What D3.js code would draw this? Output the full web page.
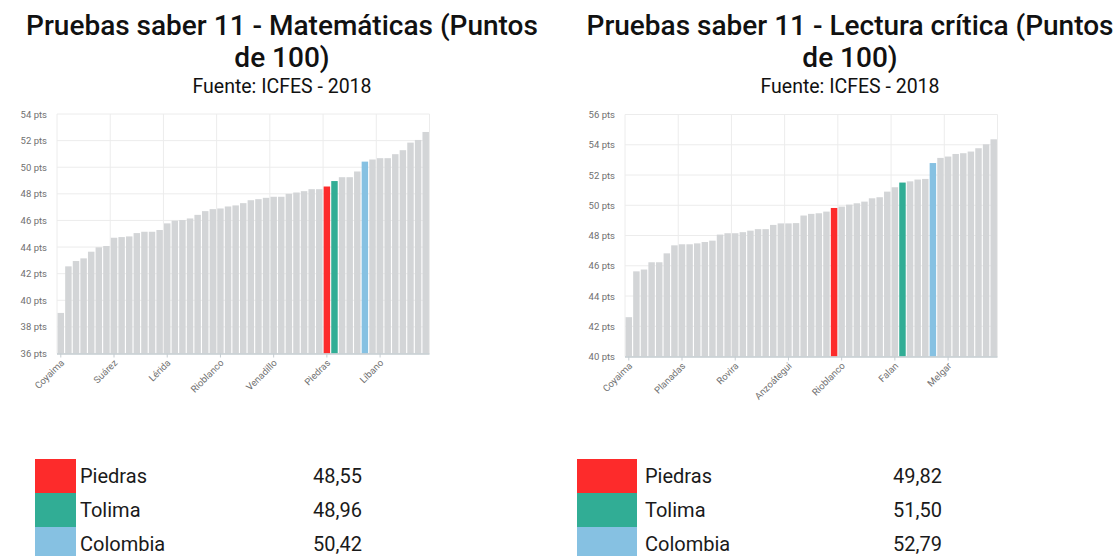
<!DOCTYPE html>
<html>
<head>
<meta charset="utf-8">
<script src="https://cdn.jsdelivr.net/npm/d3@7"></script>
<style>
  html, body { margin: 0; padding: 0; background: #fff; }
  svg { display: block; font-family: Roboto, "Noto Sans", sans-serif; }
</style>
</head>
<body>
<svg id="chart" width="1117" height="556"></svg>
<script>
// ---------- DATA ----------
const mathCategories = [
  "Coyaima","Ataco","Planadas","Natagaima","Rovira","Ortega","San Antonio",
  "Suárez","Roncesvalles","Dolores","Alpujarra","Villarrica","Cunday","Prado",
  "Lérida","Saldaña","Casabianca","Herveo","Anzoátegui","Santa Isabel","Coello",
  "Rioblanco","Valle de San Juan","Palocabildo","Purificación","Villahermosa","Alvarado","Murillo",
  "Venadillo","San Luis","Icononzo","Falan","Ambalema","Armero","Guamo",
  "Piedras","Tolima","Chaparral","Cajamarca","Fresno","Colombia","Carmen de Apicalá",
  "Líbano","Mariquita","Flandes","Honda","Espinal","Melgar","Ibagué"
];
const mathValues = [
  39.05, 42.55, 42.95, 43.15, 43.65, 43.98, 44.08,
  44.70, 44.75, 44.80, 45.05, 45.15, 45.15, 45.28,
  45.78, 45.98, 46.03, 46.15, 46.42, 46.70, 46.85,
  46.90, 47.05, 47.13, 47.30, 47.52, 47.60, 47.70,
  47.78, 47.78, 48.00, 48.10, 48.20, 48.35, 48.35,
  48.55, 48.96, 49.25, 49.25, 49.68, 50.42, 50.58,
  50.68, 50.68, 50.98, 51.28, 51.85, 52.05, 52.65
];
const mathTicks = [36, 38, 40, 42, 44, 46, 48, 50, 52, 54];

const readCategories = [
  "Coyaima","Ataco","Natagaima","Ortega","Chaparral","San Antonio","Roncesvalles",
  "Planadas","Dolores","Suárez","Alpujarra","Villarrica","Cunday","Prado",
  "Rovira","Saldaña","Casabianca","Herveo","Santa Isabel","Coello","Lérida",
  "Anzoátegui","Valle de San Juan","Palocabildo","Purificación","Villahermosa","Alvarado","Piedras",
  "Rioblanco","Murillo","Venadillo","San Luis","Icononzo","Ambalema","Armero",
  "Falan","Tolima","Guamo","Cajamarca","Fresno","Colombia","Carmen de Apicalá",
  "Melgar","Líbano","Mariquita","Flandes","Honda","Espinal","Ibagué"
];
const readValues = [
  42.60, 45.63, 45.75, 46.23, 46.23, 46.82, 47.35,
  47.42, 47.42, 47.48, 47.57, 47.66, 48.06, 48.15,
  48.15, 48.22, 48.32, 48.42, 48.42, 48.70, 48.80,
  48.80, 48.82, 49.32, 49.43, 49.47, 49.58, 49.82,
  49.91, 50.04, 50.13, 50.24, 50.46, 50.53, 50.90,
  51.19, 51.50, 51.58, 51.70, 51.74, 52.79, 53.13,
  53.22, 53.39, 53.44, 53.55, 53.77, 54.03, 54.36
];
const readTicks = [40, 42, 44, 46, 48, 50, 52, 54, 56];

const legendNames = ["Piedras", "Tolima", "Colombia"];
const legendMath = [48.55, 48.96, 50.42];
const legendRead = [49.82, 51.50, 52.79];

const titles = [
  ["Pruebas saber 11 - Matemáticas (Puntos", "de 100)"],
  ["Pruebas saber 11 - Lectura crítica (Puntos", "de 100)"]
];
const subtitle = "Fuente: ICFES - 2018";

// ---------- STYLE ----------
const highlight = { "Piedras": "#fd2b2b", "Tolima": "#31ad95", "Colombia": "#86c1e2" };
const barGray = "#d3d5d7";

const svg = d3.select("#chart");

function panel(cfg) {
  const g = svg.append("g");
  // titles
  g.append("text").attr("x", cfg.cx).attr("y", 35).attr("text-anchor", "middle")
    .attr("font-size", 28).attr("font-weight", 500).attr("fill", "#111").text(cfg.title[0]);
  g.append("text").attr("x", cfg.cx).attr("y", 67).attr("text-anchor", "middle")
    .attr("font-size", 28).attr("font-weight", 500).attr("fill", "#111").text(cfg.title[1]);
  g.append("text").attr("x", cfg.cx).attr("y", 93).attr("text-anchor", "middle")
    .attr("font-size", 19.5).attr("fill", "#111").text(subtitle);

  const x = d3.scaleBand().domain(d3.range(cfg.values.length))
    .range([cfg.x0, cfg.x1]).paddingInner(0.15).paddingOuter(0.075);
  const y = d3.scaleLinear().domain(d3.extent(cfg.ticks)).range([cfg.yb, cfg.yt]);

  // horizontal grid
  g.append("g").selectAll("line").data(cfg.ticks).join("line")
    .attr("x1", cfg.x0).attr("x2", cfg.x1)
    .attr("y1", d => y(d)).attr("y2", d => y(d))
    .attr("stroke", "#ececec").attr("stroke-width", 1);
  // vertical grid at every 7th category boundary
  const step = x.step();
  const vIdx = d3.range(0, cfg.values.length + 1, 7);
  g.append("g").selectAll("line").data(vIdx).join("line")
    .attr("x1", d => cfg.x0 + d * step).attr("x2", d => cfg.x0 + d * step)
    .attr("y1", cfg.yt).attr("y2", cfg.yb)
    .attr("stroke", "#ececec").attr("stroke-width", 1);

  // bars
  g.append("g").selectAll("rect").data(cfg.values).join("rect")
    .attr("x", (d, i) => x(i)).attr("width", x.bandwidth())
    .attr("y", d => y(d)).attr("height", d => cfg.yb - y(d))
    .attr("fill", (d, i) => highlight[cfg.categories[i]] || barGray);

  // y axis labels
  const yAxis = d3.axisLeft(y).tickValues(cfg.ticks).tickSize(0).tickPadding(0)
    .tickFormat(d => d + " pts");
  const ya = g.append("g").attr("transform", `translate(${cfg.x0 - 10},0)`).call(yAxis);
  ya.select(".domain").remove();
  ya.selectAll("text").attr("font-size", 9.5).attr("fill", "#707070")
    .attr("font-family", "Roboto, sans-serif");

  // x axis
  const tickIdx = d3.range(0, cfg.values.length, 7);
  const xAxis = d3.axisBottom(x).tickValues(tickIdx).tickSize(4).tickSizeOuter(0)
    .tickFormat(i => cfg.categories[i]);
  const xa = g.append("g").attr("transform", `translate(0,${cfg.yb})`).call(xAxis);
  xa.select(".domain").attr("stroke", "#c5ccd1").attr("stroke-width", 1.5)
    .attr("d", `M${cfg.x0},0.5H${cfg.x1}`);
  xa.selectAll(".tick line").attr("stroke", "#c5ccd1");
  xa.selectAll("text").attr("font-size", 9.5).attr("fill", "#707070")
    .attr("font-family", "Roboto, sans-serif")
    .attr("text-anchor", "end").attr("y", 0).attr("dy", 0)
    .attr("transform", "translate(4,10) rotate(-45)");

  // legend table
  const rowH = 34;
  const lg = g.append("g");
  legendNames.forEach((name, i) => {
    const top = cfg.legTop + i * rowH;
    lg.append("rect").attr("x", cfg.swX).attr("y", top).attr("width", cfg.swW)
      .attr("height", rowH).attr("fill", highlight[name]);
    lg.append("text").attr("x", cfg.nameX).attr("y", top + rowH / 2 + 7)
      .attr("font-size", 20).attr("fill", "#1a1a1a").text(name);
    lg.append("text").attr("x", cfg.valX).attr("y", top + rowH / 2 + 7)
      .attr("font-size", 20).attr("fill", "#1a1a1a")
      .text(cfg.legend[i].toFixed(2).replace(".", ","));
  });
}

panel({
  cx: 282, title: titles[0], categories: mathCategories, values: mathValues, ticks: mathTicks,
  x0: 57, x1: 429.5, yt: 114, yb: 353.5,
  legend: legendMath, legTop: 459, swX: 35, swW: 41, nameX: 80, valX: 313
});
panel({
  cx: 850, title: titles[1], categories: readCategories, values: readValues, ticks: readTicks,
  x0: 625, x1: 997.5, yt: 114.5, yb: 356.5,
  legend: legendRead, legTop: 459, swX: 577, swW: 60, nameX: 645, valX: 893
});
</script>
</body>
</html>
